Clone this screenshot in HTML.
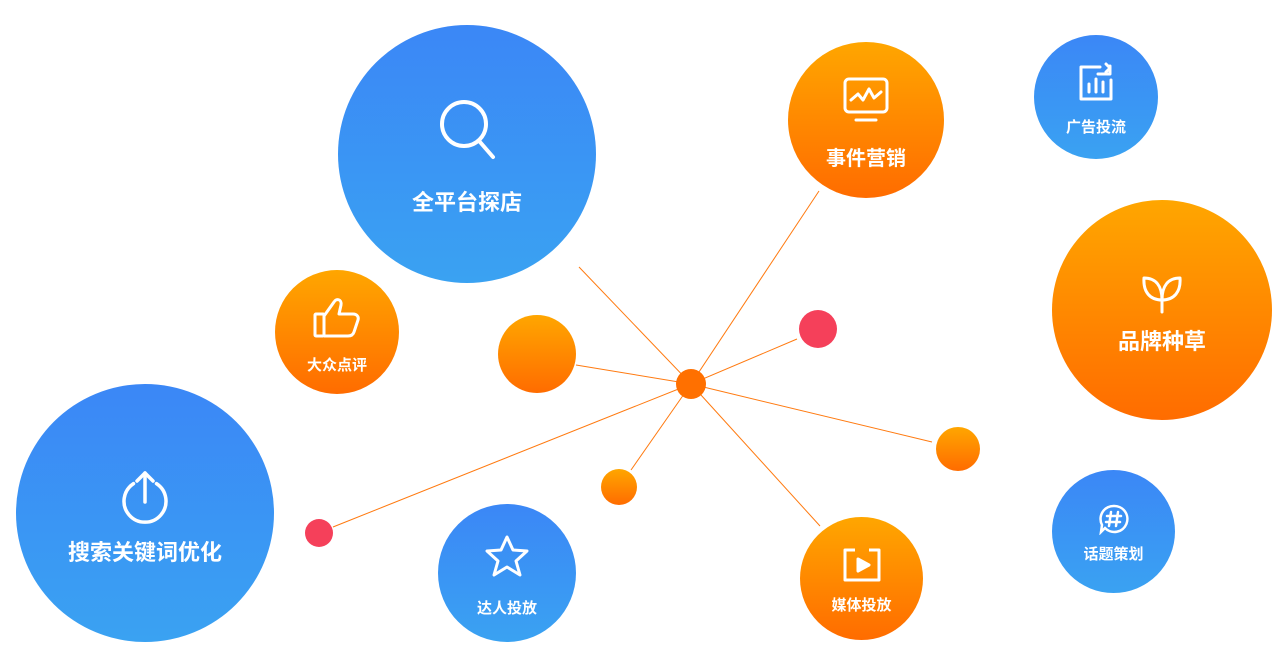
<!DOCTYPE html>
<html><head><meta charset="utf-8"><style>
html,body{margin:0;padding:0;background:#fff;width:1275px;height:645px;overflow:hidden;font-family:"Liberation Sans","Noto Sans CJK SC",sans-serif}
.c{position:absolute;border-radius:50%;color:#fff;text-align:center}
.b{background:linear-gradient(180deg,#3b87f6,#3aa2f2)}
.o{background:linear-gradient(180deg,#ffa600,#ff6c00)}
.t{position:absolute;left:0;right:0;font-weight:bold;white-space:nowrap}
svg.i{position:absolute;left:50%;transform:translateX(-50%)}
</style></head><body>
<svg width="1275" height="645" style="position:absolute;left:0;top:0" stroke="#ff7a10" stroke-width="1">
<line x1="691" y1="384" x2="579" y2="267"/>
<line x1="691" y1="384" x2="819" y2="191"/>
<line x1="691" y1="384" x2="797" y2="339"/>
<line x1="691" y1="384" x2="932" y2="442"/>
<line x1="691" y1="384" x2="820" y2="526"/>
<line x1="691" y1="384" x2="631" y2="470"/>
<line x1="691" y1="384" x2="576" y2="365"/>
<line x1="691" y1="384" x2="333" y2="527"/>
</svg>

<div class="c b" style="left:338px;top:25px;width:258px;height:258px">
<svg class="i" style="top:72px" width="60" height="64" viewBox="0 0 60 64" fill="none" stroke="#fff" stroke-width="4" stroke-linecap="round"><circle cx="27" cy="27" r="22"/><line x1="43" y1="45" x2="56" y2="60"/></svg>
<div class="t" style="top:160px;font-size:22px">全平台探店</div></div>

<div class="c o" style="left:788px;top:42px;width:156px;height:156px">
<svg class="i" style="top:34px" width="48" height="48" viewBox="0 0 48 48" fill="none" stroke="#fff" stroke-width="3" stroke-linecap="round" stroke-linejoin="round"><rect x="3" y="3" width="42" height="33" rx="4"/><polyline points="9,24 16,18 21,24 27,13 32,22 39,16"/><line x1="14" y1="44" x2="34" y2="44"/></svg>
<div class="t" style="top:100px;font-size:20px">事件营销</div></div>

<div class="c b" style="left:1034px;top:35px;width:124px;height:124px">
<svg class="i" style="top:27px" width="40" height="40" viewBox="0 0 40 40" fill="none" stroke="#fff" stroke-width="3" stroke-linecap="round" stroke-linejoin="round"><path d="M24 5H5v32h30V18"/><line x1="13" y1="22" x2="13" y2="30"/><line x1="20" y1="17" x2="20" y2="30"/><line x1="27" y1="20" x2="27" y2="30"/><path d="M22 12h12V4M30 2l4 4-4 4"/></svg>
<div class="t" style="top:81px;font-size:15px">广告投流</div></div>

<div class="c o" style="left:1052px;top:200px;width:220px;height:220px">
<svg class="i" style="top:72px" width="44" height="42" viewBox="0 0 44 42" fill="none" stroke="#fff" stroke-width="3" stroke-linecap="round" stroke-linejoin="round"><path d="M22 28C10 28 3 20 4 6 16 6 22 14 22 28zM22 28C34 28 41 20 40 6 28 6 22 14 22 28zM22 28v12"/></svg>
<div class="t" style="top:124px;font-size:22px">品牌种草</div></div>

<div class="c o" style="left:275px;top:270px;width:124px;height:124px">
<svg class="i" style="top:24px" width="50" height="46" viewBox="0 0 50 46" fill="none" stroke="#fff" stroke-width="3" stroke-linejoin="round"><rect x="3" y="20" width="9" height="22" rx="1"/><path d="M12 22l10-14c2-4 8-3 7 3l-2 9h14c4 0 6 3 5 6l-4 12c-1 3-3 4-6 4H12"/></svg>
<div class="t" style="top:84px;font-size:15px">大众点评</div></div>

<div class="c o" style="left:498px;top:315px;width:78px;height:78px"></div>
<div class="c" style="left:676px;top:369px;width:30px;height:30px;background:#ff7000"></div>
<div class="c" style="left:799px;top:310px;width:38px;height:38px;background:#f5405a"></div>
<div class="c o" style="left:936px;top:427px;width:44px;height:44px"></div>
<div class="c o" style="left:601px;top:469px;width:36px;height:36px"></div>
<div class="c" style="left:305px;top:519px;width:28px;height:28px;background:#f5405a"></div>

<div class="c b" style="left:16px;top:384px;width:258px;height:258px">
<svg class="i" style="top:86px" width="54" height="54" viewBox="0 0 54 54" fill="none" stroke="#fff" stroke-width="3.5" stroke-linecap="round" stroke-linejoin="round"><path d="M15.5 13.6A21 21 0 1 0 38.5 13.6"/><line x1="27" y1="3" x2="27" y2="32"/><polyline points="19,11 27,3 35,11"/></svg>
<div class="t" style="top:151px;font-size:22px">搜索关键词优化</div></div>

<div class="c b" style="left:438px;top:504px;width:138px;height:138px">
<svg class="i" style="top:30px" width="46" height="44" viewBox="0 0 46 44" fill="none" stroke="#fff" stroke-width="3" stroke-linejoin="round"><polygon points="23,3 29,16 43,17 32,27 36,41 23,33 10,41 14,27 3,17 17,16"/></svg>
<div class="t" style="top:93px;font-size:15px">达人投放</div></div>

<div class="c o" style="left:800px;top:517px;width:123px;height:123px">
<svg class="i" style="top:30px" width="42" height="36" viewBox="0 0 42 36" fill="none" stroke="#fff" stroke-width="3" stroke-linejoin="round"><path d="M14 3H4v30h34V3H28"/><polygon points="17,12 28,18 17,24" fill="#fff"/></svg>
<div class="t" style="top:77px;font-size:15px">媒体投放</div></div>

<div class="c b" style="left:1052px;top:470px;width:123px;height:123px">
<svg class="i" style="top:33px" width="32" height="32" viewBox="0 0 32 32" fill="none" stroke="#fff" stroke-width="2.5" stroke-linecap="round"><path d="M16 3a13 13 0 1 1-9 22l-4 4 1-7A13 13 0 0 1 16 3z"/><path d="M13 9l-2 14M20 9l-2 14M9 13h14M8 19h14"/></svg>
<div class="t" style="top:73px;font-size:15px">话题策划</div></div>
</body></html>
